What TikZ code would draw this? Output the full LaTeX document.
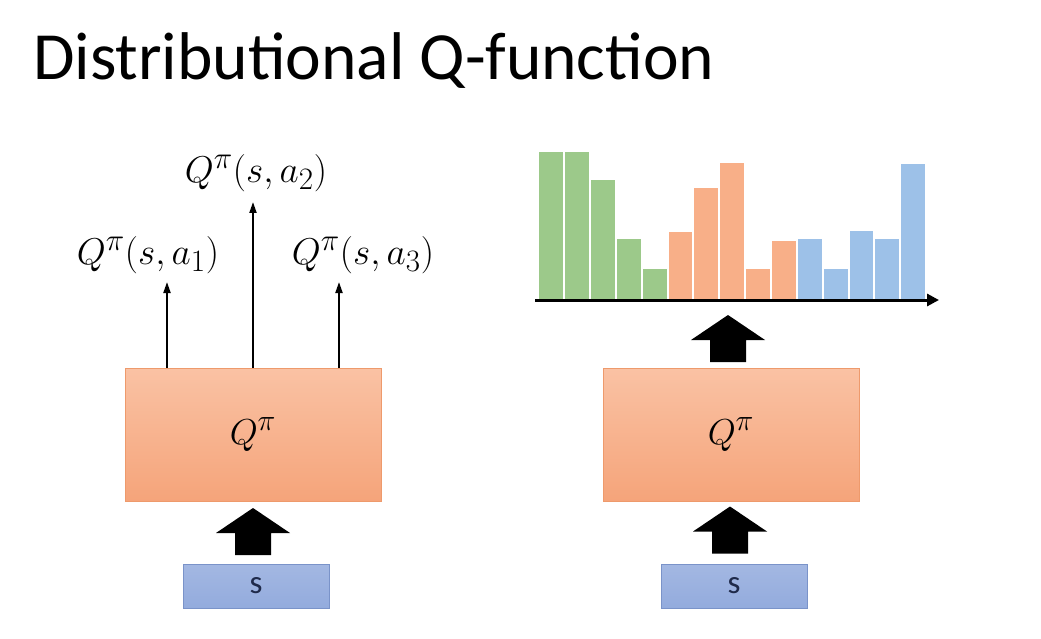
\documentclass[tikz,border=0pt]{standalone}
\usepackage{fontspec}
\setmainfont{Carlito}
\usetikzlibrary{calc,arrows.meta}
\definecolor{qtop}{HTML}{FAC2A4}
\definecolor{qbot}{HTML}{F5A47A}
\definecolor{qedge}{HTML}{EE9A6C}
\definecolor{sfill}{HTML}{93ABDD}
\definecolor{sedge}{HTML}{7A93C9}
\definecolor{stext}{HTML}{1F2A4A}
\definecolor{gbar}{HTML}{9CC98A}
\definecolor{obar}{HTML}{F8AF88}
\definecolor{bbar}{HTML}{9DC1E8}
\newcommand{\bigmath}[2]{\scalebox{#1}{\Huge$#2$}}
\tikzset{
  qbox/.style={draw=qedge, line width=0.8pt, top color=qtop, bottom color=qbot, minimum width=256pt, minimum height=133pt, inner sep=0pt},
  sbox/.style={draw=sedge, line width=0.8pt, top color=sfill!85!white, bottom color=sfill, minimum width=146pt, minimum height=44pt, inner sep=0pt, text=stext, font=\fontsize{33}{38}\selectfont},
  thinarrow/.style={line width=2pt, -{Triangle[length=11pt,width=7pt]}},
  qlabel/.style={inner sep=0pt},
  blockup/.pic={\fill[black] (-37,0) -- (0,-25) -- (37,0) -- (18,0) -- (18,22) -- (-18,22) -- (-18,0) -- cycle;}
}
\begin{document}
\begin{tikzpicture}[x=1pt,y=-1pt]
\useasboundingbox (0,0) rectangle (1041,639);
\fill[white] (0,0) rectangle (1041,639);
% title
\node[anchor=base west, inner sep=0pt, font=\fontsize{67.5}{72}\selectfont] (title) at (33,80) {Distributional Q-function};
% left
\node[qbox] (ql) at (253,434.5) {\bigmath{1.45}{Q^{\pi}}};
\node[sbox] (sl) at (256,586) {s};
\pic at (253,533) {blockup};
\coordinate (a1) at (167,282);
\coordinate (a2) at (253,202);
\coordinate (a3) at (339,282);
\draw[thinarrow] (ql.north -| a1) -- (a1);
\draw[thinarrow] (ql.north -| a2) -- (a2);
\draw[thinarrow] (ql.north -| a3) -- (a3);
\node[qlabel] (l1) at (148,255) {\bigmath{1.5}{Q^{\pi}(s,a_1)}};
\node[qlabel] (l2) at (256,173) {\bigmath{1.5}{Q^{\pi}(s,a_2)}};
\node[qlabel] (l3) at (363,255) {\bigmath{1.5}{Q^{\pi}(s,a_3)}};
% right
\node[qbox] (qr) at (731,434.5) {\bigmath{1.45}{Q^{\pi}}};
\node[sbox] (sr) at (734,586) {s};
\pic at (730,531.5) {blockup};
\pic at (728,340) {blockup};
% histogram
\foreach \h [count=\i] in {151.7,151.7,180,239.3,269}
  \fill[gbar] ({538.3+(\i-1)*25.85+1},299) rectangle ({538.3+\i*25.85-1},\h);
\foreach \h [count=\i from 6] in {231.7,188.3,163.3,269,241}
  \fill[obar] ({538.3+(\i-1)*25.85+1},299) rectangle ({538.3+\i*25.85-1},\h);
\foreach \h [count=\i from 11] in {239.3,269,231,239.3,164}
  \fill[bbar] ({538.3+(\i-1)*25.85+1},299) rectangle ({538.3+\i*25.85-1},\h);
\coordinate (ax0) at (535,300);
\coordinate (ax1) at (939,300);
\draw[line width=3pt, -{Triangle[length=12pt,width=12pt]}] (ax0) -- (ax1);
\end{tikzpicture}
\end{document}
